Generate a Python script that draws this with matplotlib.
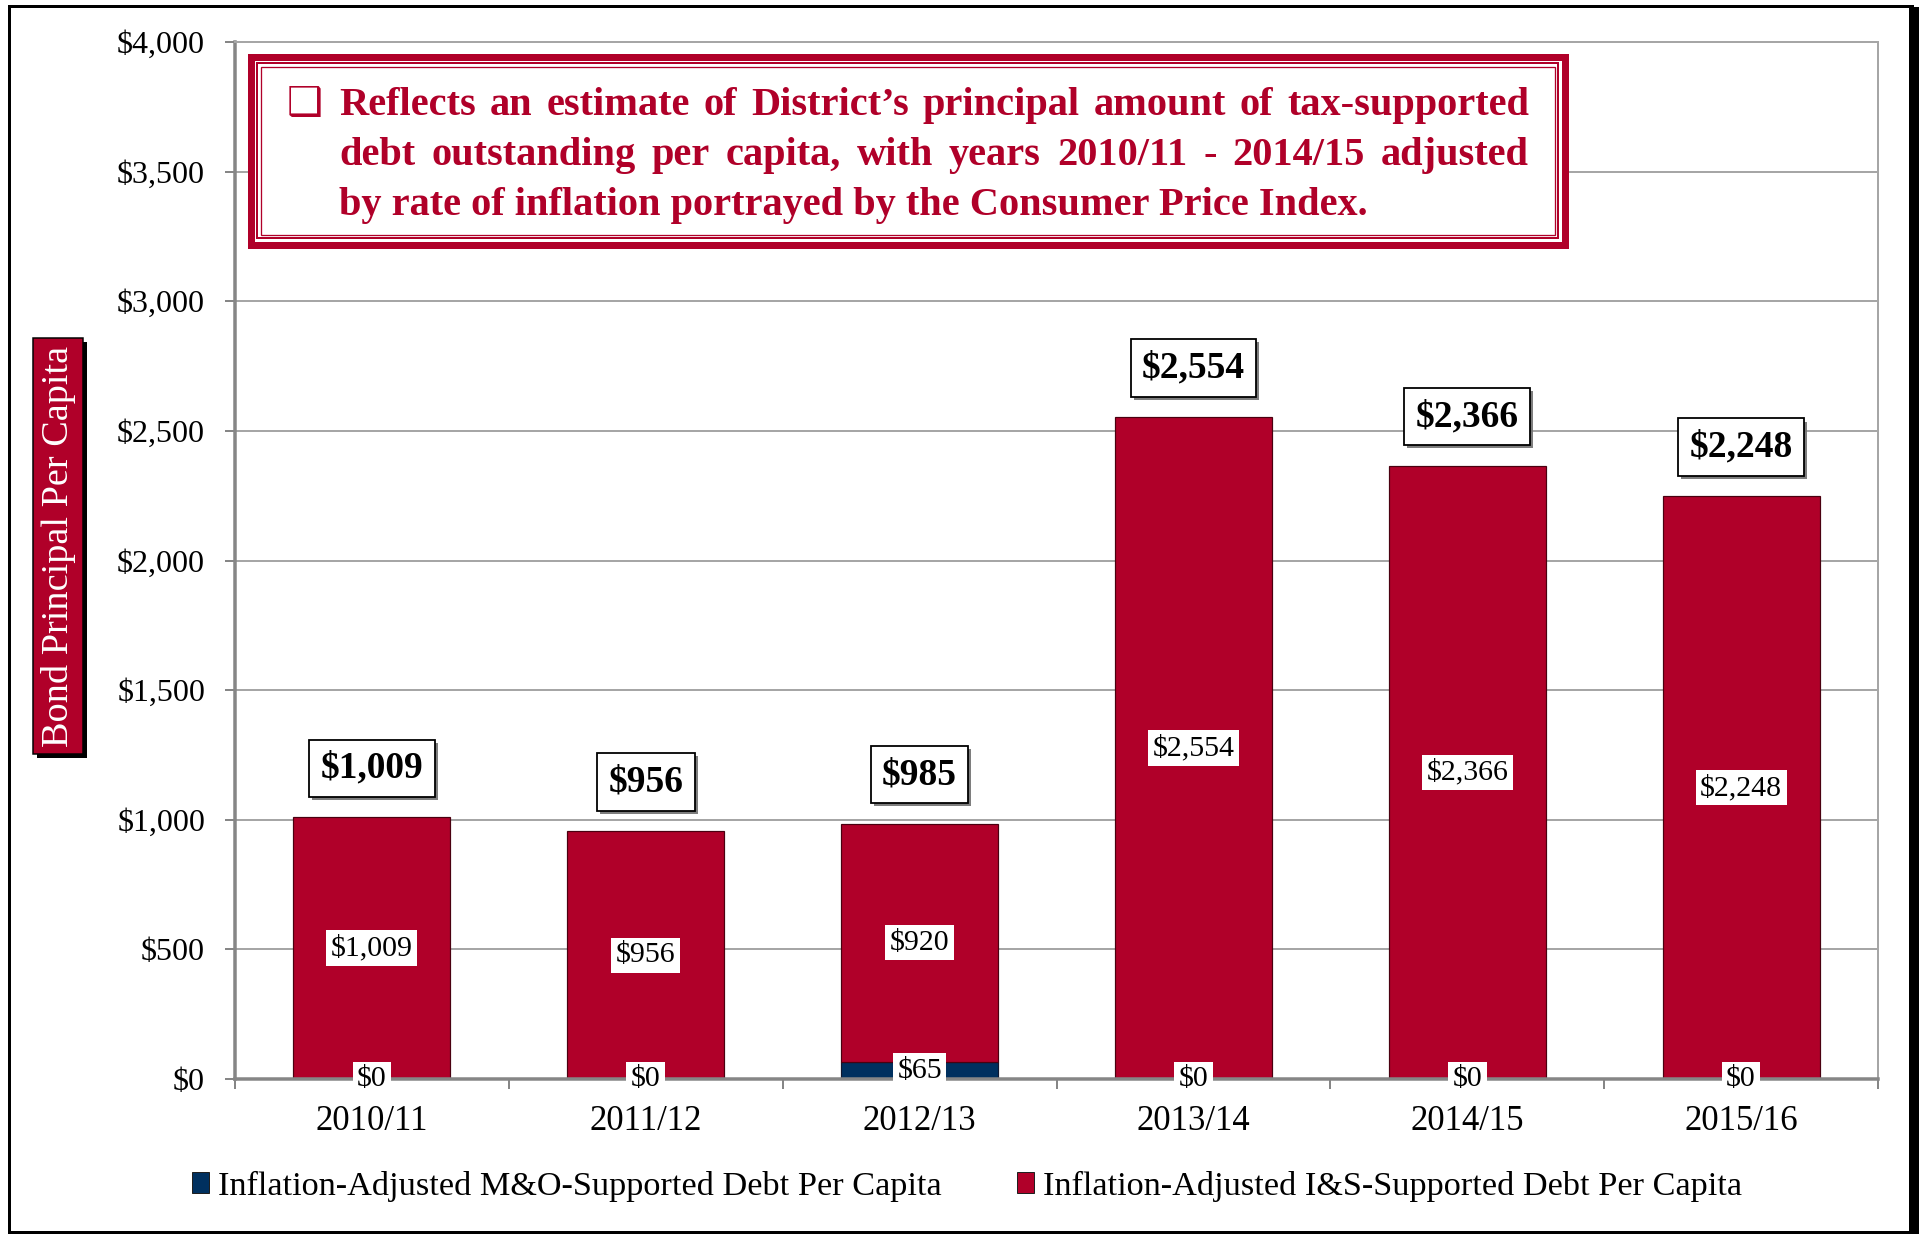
import matplotlib
matplotlib.use('Agg')
import matplotlib.pyplot as plt
from matplotlib.patches import Rectangle, Patch
from matplotlib.ticker import FuncFormatter, FixedLocator
import matplotlib.patheffects as pe
import numpy as np

# ---------------- data ----------------
categories = ['2010/11', '2011/12', '2012/13', '2013/14', '2014/15', '2015/16']
mo_debt = [0, 0, 65, 0, 0, 0]
is_debt = [1009, 956, 920, 2554, 2366, 2248]
series_names = ['Inflation-Adjusted M&O-Supported Debt Per Capita',
                'Inflation-Adjusted I&S-Supported Debt Per Capita']
y_ticks = [0, 500, 1000, 1500, 2000, 2500, 3000, 3500, 4000]
y_label = 'Bond Principal Per Capita'
note_lines = ['Reflects an estimate of District\u2019s principal amount of tax-supported',
              'debt outstanding per capita, with years 2010/11 - 2014/15 adjusted',
              'by rate of inflation portrayed by the Consumer Price Index.']

RED = '#B00029'
NAVY = '#00305F'
GRID = '#A6A6A6'
AXIS = '#868686'

plt.rcParams['font.family'] = ['Liberation Serif', 'DejaVu Serif', 'DejaVu Sans']

W, H, DPI = 1919, 1234, 100
fig = plt.figure(figsize=(W / DPI, H / DPI), dpi=DPI)
fig.patch.set_facecolor('white')


def fx(px):
    return px / W


def fy(py):
    return 1 - py / H


def pt(px):
    return px * 72.0 / DPI


def money(v):
    return '${:,.0f}'.format(v)


# ---------------- outer frame ----------------
fig.add_artist(Rectangle((fx(9), fy(1232)), fx(1912) - fx(9), fy(6) - fy(1232),
                         transform=fig.transFigure, fill=False, edgecolor='black',
                         linewidth=pt(3), zorder=0))
fig.add_artist(Rectangle((fx(1909), 0), fx(1919) - fx(1909), fy(7),
                         transform=fig.transFigure, facecolor='black',
                         edgecolor='none', zorder=0))

# ---------------- axes ----------------
ax = fig.add_axes([fx(235), fy(1079), fx(1878) - fx(235), fy(42) - fy(1079)])
x = np.arange(len(categories))
bar_w = 0.573
ax.bar(x, mo_debt, bar_w, color=NAVY, edgecolor='#101830', linewidth=pt(1.2), zorder=2)
ax.bar(x, is_debt, bar_w, bottom=mo_debt, color=RED, edgecolor='#4A0010',
       linewidth=pt(1.2), zorder=2)

ax.set_xlim(-0.5, len(categories) - 0.5)
ax.set_ylim(y_ticks[0], y_ticks[-1])
ax.set_yticks(y_ticks)
ax.yaxis.set_major_formatter(FuncFormatter(lambda v, p: money(v)))
ax.set_xticks(x)
ax.set_xticklabels(categories)
ax.xaxis.set_minor_locator(FixedLocator(np.arange(-0.5, len(categories), 1.0)))

ax.set_axisbelow(True)
ax.yaxis.grid(True, color=GRID, linewidth=pt(2))
for s in ['top', 'right']:
    ax.spines[s].set_color(GRID)
    ax.spines[s].set_linewidth(pt(2))
for s in ['left', 'bottom']:
    ax.spines[s].set_color(AXIS)
    ax.spines[s].set_linewidth(pt(3.5))

ax.tick_params(axis='y', length=pt(10), width=pt(2), color=AXIS, direction='out',
               pad=pt(20), labelsize=23)
ax.tick_params(axis='x', which='major', length=0, pad=pt(26), labelsize=25)
ax.tick_params(axis='x', which='minor', length=pt(10), width=pt(2), color=AXIS,
               direction='out')

# ---------------- data labels ----------------
for i in range(len(categories)):
    ax.text(x[i], mo_debt[i] / 2.0, money(mo_debt[i]), ha='center', va='center',
            fontsize=21.5, zorder=6, clip_on=False,
            bbox=dict(boxstyle='square,pad=0.15', fc='white', ec='none'))
    ax.text(x[i], mo_debt[i] + is_debt[i] / 2.0, money(is_debt[i]), ha='center',
            va='center', fontsize=21.5, zorder=6,
            bbox=dict(boxstyle='square,pad=0.15', fc='white', ec='none'))
    total = mo_debt[i] + is_debt[i]
    ann = ax.annotate(money(total), xy=(x[i], total), xytext=(0, pt(49)),
                      textcoords='offset points', ha='center', va='center',
                      fontsize=27, fontweight='bold', zorder=7,
                      bbox=dict(boxstyle='square,pad=0.3', fc='white', ec='black',
                                lw=pt(1.8)))
    ann.get_bbox_patch().set_path_effects(
        [pe.withSimplePatchShadow(offset=(2.2, -2.2), shadow_rgbFace='#707070', alpha=0.9)])

# ---------------- y label box ----------------
yl = fig.text(fx(58), fy(546), y_label, rotation=90, ha='center', va='center',
              color='white', fontsize=27.5,
              bbox=dict(boxstyle='square,pad=0.2', fc=RED, ec='black', lw=pt(1.5)))
yl.get_bbox_patch().set_path_effects(
    [pe.withSimplePatchShadow(offset=(3, -3), shadow_rgbFace='black', alpha=1.0)])

# ---------------- note box ----------------
bx0, by0, bx1, by1 = 247, 53, 1568, 248
for inset, lw in [(3.5, 7), (10, 2), (13.5, 1.3)]:
    fig.add_artist(Rectangle((fx(bx0 + inset), fy(by1 - inset)),
                             fx(bx1 - inset) - fx(bx0 + inset),
                             fy(by0 + inset) - fy(by1 - inset),
                             transform=fig.transFigure,
                             facecolor='white' if inset == 3.5 else 'none',
                             edgecolor=RED, linewidth=pt(lw), zorder=10))

fig.text(fx(287), fy(115), '\u2751', family='DejaVu Sans', fontsize=29, color=RED,
         ha='left', va='baseline', zorder=11)

renderer = fig.canvas.get_renderer()


def text_width(s, fs):
    t = fig.text(0, 0, s, fontsize=fs, fontweight='bold')
    w = t.get_window_extent(renderer).width
    t.remove()
    return w


tx0, tx1 = 339, 1529
baselines = [115, 165, 215]
fs0 = 28.0
w1 = text_width(note_lines[0], fs0)
w3 = text_width(note_lines[2], fs0)
fs = fs0 * min((tx1 - tx0) / w1, 1032.0 / w3)

for li, line in enumerate(note_lines):
    if li < 2:
        words = line.split(' ')
        widths = [text_width(wd, fs) for wd in words]
        gap = ((tx1 - tx0) - sum(widths)) / (len(words) - 1)
        xpos = tx0
        for wd, ww in zip(words, widths):
            fig.text(fx(xpos), fy(baselines[li]), wd, fontsize=fs, fontweight='bold',
                     color=RED, ha='left', va='baseline', zorder=11)
            xpos += ww + gap
    else:
        fig.text(fx(tx0), fy(baselines[li]), line, fontsize=fs, fontweight='bold',
                 color=RED, ha='left', va='baseline', zorder=11)

# ---------------- legend ----------------
handles = [Patch(facecolor=NAVY, edgecolor='#202020', linewidth=pt(1)),
           Patch(facecolor=RED, edgecolor='#202020', linewidth=pt(1))]
fig.legend(handles, series_names, loc='center', bbox_to_anchor=(fx(967), fy(1186)),
           ncol=2, frameon=False, fontsize=24.7, handlelength=0.5, handleheight=0.55,
           handletextpad=0.25, columnspacing=2.2)

fig.savefig('out.png', dpi=DPI, facecolor='white')
